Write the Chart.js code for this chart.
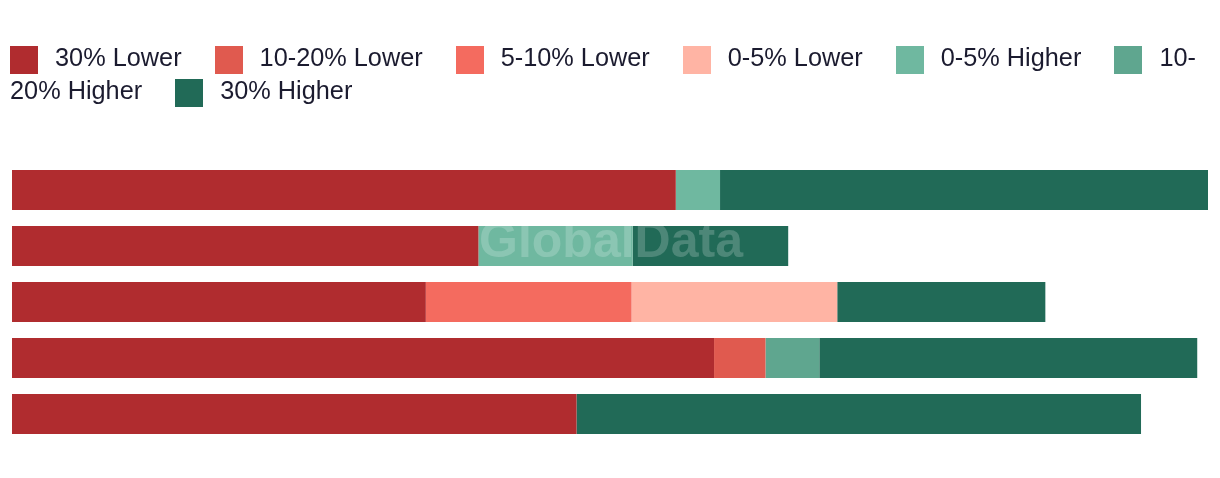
<!DOCTYPE html>
<html>
<head>
<meta charset="utf-8">
<script src="https://cdn.jsdelivr.net/npm/chart.js@4"></script>
<style>
  body { margin: 0; background: #fff; }
  #wrap { position: relative; width: 1220px; height: 478px; overflow: hidden; }
  #myChart { position: absolute; left: 0; top: 0; }
  #legend {
    position: absolute; left: 10px; top: 41px; width: 1210px;
    font-family: "Liberation Sans", Arial, sans-serif; font-size: 25.3px;
    line-height: 33px; color: #1b1b2f;
  }
  #legend .item { margin-right: 33px; }
  #legend .box {
    display: inline-block; width: 28px; height: 28px; margin-right: 17px;
    vertical-align: top; position: relative; top: 5px;
  }
</style>
</head>
<body>
<div id="wrap">
  <canvas id="myChart" width="1220" height="478"></canvas>
  <div id="legend"></div>
</div>
<script>
const categories = ["Row 1", "Row 2", "Row 3", "Row 4", "Row 5"];
const seriesNames = ["30% Lower", "10-20% Lower", "5-10% Lower", "0-5% Lower", "0-5% Higher", "10-20% Higher", "30% Higher"];
const seriesColors = ["#b02c2f", "#e05a4f", "#f46b5f", "#ffb4a4", "#6fb8a0", "#5fa68f", "#216a57"];

const lower30  = [55.5, 39.0, 34.6, 58.7, 47.2];
const lower10  = [0, 0, 0, 4.3, 0];
const lower5   = [0, 0, 17.2, 0, 0];
const lower0   = [0, 0, 17.2, 0, 0];
const higher0  = [3.7, 12.9, 0, 0, 0];
const higher10 = [0, 0, 0, 4.5, 0];
const higher30 = [40.8, 13.0, 17.4, 31.6, 47.2];

const seriesValues = [lower30, lower10, lower5, lower0, higher0, higher10, higher30];

const watermark = {
  id: "watermark",
  afterDatasetsDraw(chart) {
    const { ctx, chartArea } = chart;
    ctx.save();
    ctx.font = 'bold 50px "Liberation Sans", Arial, sans-serif';
    ctx.fillStyle = "rgba(255,255,255,0.2)";
    ctx.textAlign = "center";
    ctx.textBaseline = "alphabetic";
    ctx.fillText("GlobalData", (chartArea.left + chartArea.right) / 2 + 1, 257);
    ctx.restore();
  }
};

const data = {
  labels: categories,
  datasets: seriesNames.map((name, i) => ({
    label: name,
    data: seriesValues[i],
    backgroundColor: seriesColors[i],
    borderWidth: 0,
    categoryPercentage: 1,
    barPercentage: 40 / 56,
  })),
};

const config = {
  type: "bar",
  data,
  options: {
    indexAxis: "y",
    responsive: false,
    animation: false,
    layout: { padding: { top: 162, left: 12, right: 12, bottom: 36 } },
    plugins: { legend: { display: false }, tooltip: { enabled: false } },
    scales: {
      x: { stacked: true, min: 0, max: 100, display: false },
      y: { stacked: true, display: false },
    },
  },
  plugins: [watermark],
};

const myChart = new Chart(document.getElementById("myChart"), config);

// html legend so the last label can wrap like the original
const legend = document.getElementById("legend");
legend.innerHTML = myChart.data.datasets.map(ds =>
  '<span class="item"><span class="box" style="background:' + ds.backgroundColor + '"></span>' +
  ds.label.replace(/-/g, "-<wbr>") + "</span>"
).join("");
</script>
</body>
</html>
